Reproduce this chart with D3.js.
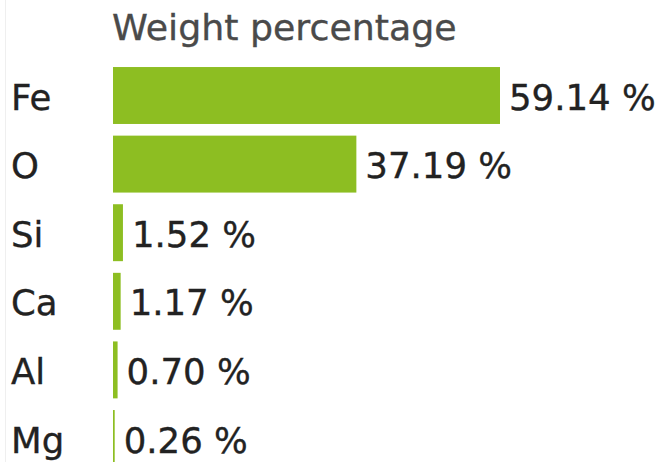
<!DOCTYPE html>
<html>
<head>
<meta charset="utf-8">
<script src="https://cdn.jsdelivr.net/npm/d3@7"></script>
<style>
  html, body { margin: 0; padding: 0; background: #fff; }
  svg { display: block; }
  text { font-family: "DejaVu Sans", sans-serif; }
</style>
</head>
<body>
<div id="chart"></div>
<script>
const title = "Weight percentage";
const categories = ["Fe", "O", "Si", "Ca", "Al", "Mg"];
const values = [59.14, 37.19, 1.52, 1.17, 0.70, 0.26];
const valueLabels = ["59.14 %", "37.19 %", "1.52 %", "1.17 %", "0.70 %", "0.26 %"];

const W = 660, H = 462;
const svg = d3.select("#chart").append("svg").attr("width", W).attr("height", H);

const x = d3.scaleLinear().domain([0, 59.14]).range([113, 500]);
const y = d3.scaleBand().domain(categories).range([61.2, 472.8]).paddingInner(0.17).paddingOuter(0.085);

// faint left border
svg.append("line").attr("x1", 5.5).attr("x2", 5.5).attr("y1", 0).attr("y2", H)
  .attr("stroke", "#efefef").attr("stroke-width", 1);

svg.append("text").attr("x", 112).attr("y", 40)
  .attr("font-size", 36.3).attr("fill", "#4a4a4a")
  .attr("stroke", "#4a4a4a").attr("stroke-width", 0.35)
  .text(title);

const rows = svg.selectAll("g.row").data(categories.map((c, i) => ({c, v: values[i], l: valueLabels[i]})))
  .enter().append("g").attr("class", "row");

rows.append("rect")
  .attr("x", x(0))
  .attr("y", d => y(d.c))
  .attr("width", d => x(d.v) - x(0))
  .attr("height", y.bandwidth())
  .attr("fill", "#8dbe22");

const capOff = 14;
rows.append("text")
  .attr("x", 11)
  .attr("y", d => y(d.c) + y.bandwidth() / 2 + capOff)
  .attr("font-size", 35.5).attr("fill", "#222")
  .attr("stroke", "#222").attr("stroke-width", 0.35)
  .text(d => d.c);

rows.append("text")
  .attr("x", d => x(d.v) + 9)
  .attr("y", d => y(d.c) + y.bandwidth() / 2 + capOff)
  .attr("font-size", 35.5).attr("fill", "#222")
  .attr("stroke", "#222").attr("stroke-width", 0.35)
  .text(d => d.l);
</script>
</body>
</html>
